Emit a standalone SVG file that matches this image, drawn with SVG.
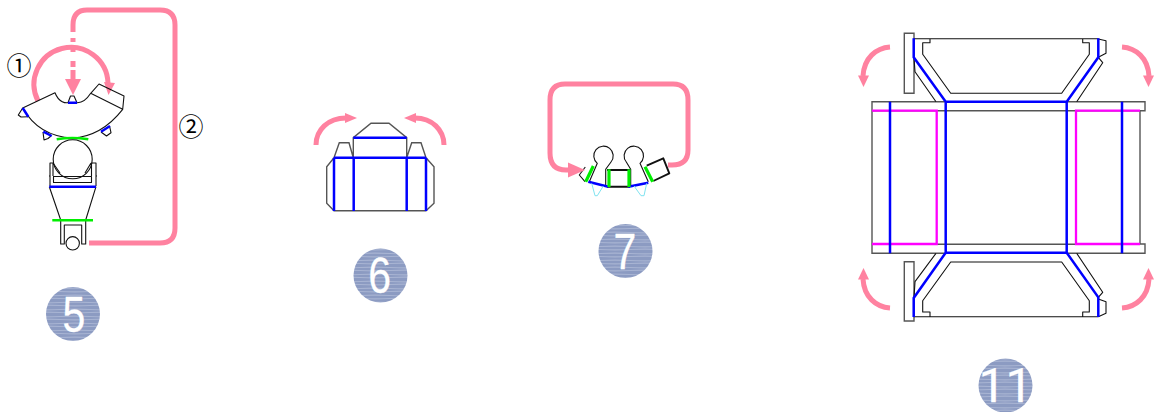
<svg xmlns="http://www.w3.org/2000/svg" width="1158" height="412" viewBox="0 0 1158 412">
<style>
.k{fill:none;stroke:#111;stroke-width:1.1;stroke-linejoin:round}
.g{fill:none;stroke:#555;stroke-width:1.4}
.b{fill:none;stroke:#00f;stroke-width:2.5}
.m{fill:none;stroke:#f0f;stroke-width:2.3}
.gr{fill:none;stroke:#0e0;stroke-width:2.6}
.gt{fill:none;stroke:#0e0;stroke-width:3.2}
.c{fill:none;stroke:#7fe3f0;stroke-width:1}
.p{fill:none;stroke:#ff82a0;stroke-width:5}
.a{fill:#ff82a0}
.n{font-family:"Liberation Sans",Arial,sans-serif;fill:#fff;stroke:#fff;stroke-width:.25;text-anchor:middle}
.r{font-family:Roboto,"Liberation Sans",sans-serif}
.t{font-family:"Noto Sans CJK JP","DejaVu Sans",sans-serif;font-size:25px;fill:#000;text-anchor:middle}
</style>
<defs>
<pattern id="st" width="60" height="7" patternUnits="userSpaceOnUse">
<rect width="60" height="7" fill="#8c9bc2"/>
<path d="M0 1.5Q15 .8 30 1.5T60 1.5M0 4.5Q15 5.2 30 4.500T60 4.500" fill="none" stroke="#a8b4d3" stroke-width="1.1"/>
</pattern>
</defs>

<g id="connectors">
<path class="p" d="M89 243H160Q175 243 175 228V25Q175 10 160 10H87Q73 10 73 25V32"/>
<path class="p" d="M73 38V42M73 47V52M73 61V67M73 70V80"/>
<path class="a" d="M65 79H81L73 95Z"/>
<path class="p" d="M38 101A37 37 0 1 1 108 83"/>
<path class="a" d="M104 82L115 83L108.500 95Z"/>
<path class="p" d="M316 145C316 130 328 118 346 118"/>
<path class="a" d="M345 113L357 118L345 123Z"/>
<path class="p" d="M444 145C444 130 432 118 415 118"/>
<path class="a" d="M416 113L404 118L416 123Z"/>
<path class="p" d="M668 165H672Q688 165 688 150V100Q688 84 673 84H565Q550 84 550 100V153Q550 170 566 170H570"/>
<path class="p" d="M890 47C876 48 864 58 863 76"/>
<path class="a" d="M858 75.500H869L863.500 87Z"/>
<path class="p" d="M1122 47C1136 48 1148 58 1149 76"/>
<path class="a" d="M1143 75.500H1154L1148.500 87Z"/>
<path class="p" d="M890 308C876 307 864 297 863 279"/>
<path class="a" d="M858 279.500H869L863.500 268Z"/>
<path class="p" d="M1122 308C1136 307 1148 297 1149 279"/>
<path class="a" d="M1143 279.500H1154L1148.500 268Z"/>
</g>

<g id="fig5">
<path class="k" d="M22.700 108L55 92.700C59 103 66 103 68 102.700H77C82 103 87 99 90.700 93.300L99 84L124 96L122.700 109.300C108 128 90 137 72.500 138C52 137 34 128 22.700 108ZM90.700 93.300L122.700 109.300"/>
<path class="k" d="M68 102.700L70.500 96H74L77 102.700M22.700 108L18.300 115L21 117L28.300 116.700M43 132L44 140L48 138.500L51 136M101 132L106.500 136L111 132.700L109.500 126"/>
<path class="b" d="M68 102.700H77M22.700 108L28.300 116.700M43.300 131.700L51.700 136M101 131.700L110 126"/>
<path class="gr" d="M56.700 139.300Q72 136.800 88.300 139.300"/>
<circle class="k" cx="72.700" cy="159.300" r="19.500"/>
<path class="k" d="M50 186V163H53V176M96 186V163H91.500V176M49 176H50M96 176H97M53 176.500H91.500V182.500H53.500V176.500M50 186.500V176M53 163L60 173M91 163L85 173"/>
<path class="k" d="M49.300 186.700L60.700 220V244H64.300V225H81.700V244H85.700V220L96 186.700"/>
<path class="b" d="M49.300 186.700H96"/>
<path class="gr" d="M52.300 220.300H93"/>
<circle class="k" cx="72.700" cy="243.300" r="6.700" style="fill:#fff"/>
<text class="t" x="19" y="75">①</text>
<text class="t" x="191" y="136">②</text>
<circle cx="73" cy="314" r="27" fill="url(#st)"/>
<text class="n" x="73" y="332.500" font-size="50" transform="translate(14 0) scale(.82 1)">5</text>
</g>

<g id="fig6">
<path class="g" d="M353.300 157.700V137.700L371 123.300H389L406.700 137.700V157.700M334 157.700L326.700 166.700V203.300L334 210.700H426L434 203.300V166.700L426 157.700M334 157.700L339.300 142.700H349L353.300 157.700M406.700 157.700L411.700 142.700H421L426 157.700"/>
<path class="b" d="M353.300 137.700H406.700M334 157.700H426M334 157.700V211M353.700 157.700V211M406.700 157.700V211M426 157.700V211"/>
<circle cx="380.500" cy="275.500" r="27" fill="url(#st)"/>
<text class="n" x="380" y="293.500" font-size="50" transform="translate(68 0) scale(.82 1)">6</text>
</g>

<g id="fig7">
<path class="k" d="M589.300 181.700L597.300 163.300A9.700 9.700 0 1 1 611 162L605.700 169.300V186.700M630.700 186.700V169.300L626.300 162A9.700 9.700 0 1 1 640 163.300L648.300 181.700"/>
<path class="k" d="M585.300 167L579.300 175L585 181.700"/>
<path class="k" style="stroke-width:1.900" d="M607 170H630M607 186.700H630M646.700 165.700L663.300 158.300L669.300 173.300L653.300 181"/>
<path class="b" d="M588.300 181.700L608.300 186.700M628.300 186.700L648.300 182.700"/>
<path class="gt" d="M593.300 166L585.700 181.700M609 169.300V187M629 169.300V187M645 166.700L652.700 181.700"/>
<path class="c" d="M591.700 183.300L595 195.700H597.300L603.300 186M634 186L641 195.700H644L646.700 183.300"/>
<path class="a" d="M568 162.500L585 170L568 177.500Z"/>
<circle cx="625.500" cy="251" r="27" fill="url(#st)"/>
<text class="n" x="625" y="269" font-size="50" transform="translate(112.500 0) scale(.82 1)">7</text>
</g>

<g id="fig11">
<path class="g" d="M904.300 33.300H914V93.300H904.300ZM904.300 261.700H914V321H904.300Z"/>
<path class="g" d="M945.700 101.700H872V253.300H1145V244H1140V110.700H1145V101.700H1066.700M872 110.700H1140M872 244.300H1140"/>
<path class="k" d="M913.700 38.700H1098.300M930 38.700V42.700H922.700V54.300L950.700 93.300H1061.700L1089.300 54.300V42.700H1082.700V38.700M914 58L915 71.700L936 101.700M1098.300 57.300L1102.700 62.700L1076.700 101.700M1098.300 39L1106 40.700V53.300L1098.300 57.300"/>
<path class="k" d="M913.700 316.700H1098.300M930 316.700V312H922.700V300.700L950.700 262H1061.700L1089.300 300.700V312H1082.700V316.700M914 298L915 281.700L936 253.300M1098.300 297.300L1102.700 292.300L1076.700 253.300M1098.300 299L1106 301.700V313.300L1098.300 316.700"/>
<path class="m" d="M872 110.700H936.700V244H872M1140 110.700H1076V244H1140"/>
<path class="b" d="M913.700 38.300V57.300L945.700 101.700H1066.700L1098.300 57.300V38.300M945.700 101.700V252.700M1066.700 101.700V252.700M945.700 252.700H1066.700M913.700 317V298L945.700 252.700M1098.300 317V297.300L1066.700 252.700M890 101.700V253.300M1122 101.700V253.300"/>
<circle cx="1005.500" cy="385.500" r="27" fill="url(#st)"/>
<text class="n r" x="1005.500" y="402" font-size="48">11</text>
</g>
</svg>
